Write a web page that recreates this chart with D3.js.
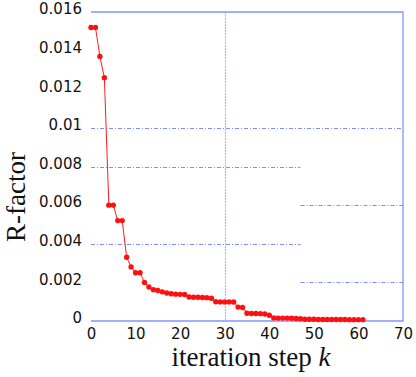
<!DOCTYPE html>
<html>

<head>
    <meta charset="utf-8">
    <style>
        body {
            margin: 0;
            background: #fff;
        }

        svg {
            display: block;
        }

        .tick text {
            font-family: 'DejaVu Sans', sans-serif;
            font-size: 15px;
            fill: #111;
        }

        .axis .domain {
            display: none;
        }

        .title {
            font-family: 'Liberation Serif', 'Times New Roman', serif;
            font-size: 27px;
            fill: #111;
        }
    </style>
</head>

<body>
    <svg width="416" height="377"></svg>

    <script src="https://d3js.org/d3.v7.min.js"></script>

    <script>
        // R-factor per iteration step
        let steps = d3.range(0, 62);
        let rfactor = [
            0.0152, 0.0152, 0.0137, 0.0126, 0.0060, 0.0060, 0.0052, 0.0052, 0.0033, 0.0028,
            0.0025, 0.0025, 0.0020, 0.00176, 0.00162, 0.00158, 0.00151, 0.00145, 0.00141, 0.00139,
            0.00138, 0.00137, 0.00124, 0.00123, 0.00123, 0.00122, 0.00121, 0.00118, 0.00100, 0.00099,
            0.00099, 0.00099, 0.00098, 0.00072, 0.00070, 0.00040, 0.00039, 0.00039, 0.00038, 0.00036,
            0.00030, 0.00016, 0.00015, 0.00015, 0.00015, 0.00014, 0.00013, 0.00012, 0.00009, 0.00009,
            0.00009, 0.00008, 0.00008, 0.00008, 0.00008, 0.00008, 0.00008, 0.00008, 0.00007, 0.00007,
            0.00007, 0.00007
        ];

        let xTicks = [0, 10, 20, 30, 40, 50, 60, 70];
        let yTicks = [0, 0.002, 0.004, 0.006, 0.008, 0.01, 0.012, 0.014, 0.016];
        let yTickLabels = ["0", "0.002", "0.004", "0.006", "0.008", "0.01", "0.012", "0.014", "0.016"];

        // horizontal grid lines, and which part of the plot each one covers
        let gridValues = [0.002, 0.004, 0.006, 0.008, 0.01];
        let gridSpans = ["right", "left", "right", "left", "full"];

        let margin = { top: 12, right: 13, bottom: 56, left: 91 };
        let width = 416;
        let height = 377;

        let svg = d3.select("svg");

        let x = d3.scaleLinear()
            .domain([0, 70])
            .range([margin.left, width - margin.right]);

        let y = d3.scaleLinear()
            .domain([0, 0.016])
            .range([height - margin.bottom, margin.top]);

        let gridBlue = "#7f8cff";
        let splitAt = 47;

        // grid
        let grid = svg.append("g").attr("class", "grid");

        gridValues.forEach((v, i) => {
            let span = gridSpans[i];
            let x1 = span == "right" ? x(splitAt) : x(0);
            let x2 = span == "left" ? x(splitAt) : x(70);
            grid.append("line")
                .attr("x1", x1)
                .attr("x2", x2)
                .attr("y1", Math.round(y(v)) + 0.5)
                .attr("y2", Math.round(y(v)) + 0.5)
                .attr("stroke", gridBlue)
                .attr("stroke-width", 1)
                .attr("stroke-dasharray", "4,2,1,2");
        });

        grid.append("line")
            .attr("x1", Math.round(x(30)) + 0.5)
            .attr("x2", Math.round(x(30)) + 0.5)
            .attr("y1", y(0.016))
            .attr("y2", y(0))
            .attr("stroke", "#aab8ff")
            .attr("stroke-width", 1.2)
            .attr("stroke-dasharray", "2,1");

        // frame: top, right and bottom
        svg.append("path")
            .attr("d", `M${x(0)},${y(0.016)}H${x(70)}V${y(0)}H${x(0)}`)
            .attr("fill", "none")
            .attr("stroke", "#8494ff")
            .attr("stroke-width", 1.3);

        // axes
        svg.append("g")
            .attr("class", "y axis")
            .attr("transform", `translate(${margin.left},0)`)
            .call(d3.axisLeft(y)
                .tickValues(yTicks)
                .tickSize(0)
                .tickPadding(9)
                .tickFormat((d, i) => yTickLabels[i]))
            .call(g => g.selectAll(".tick text").attr("dy", "0.12em"));

        svg.append("g")
            .attr("class", "x axis")
            .attr("transform", `translate(0,${height - margin.bottom})`)
            .call(d3.axisBottom(x)
                .tickValues(xTicks)
                .tickSize(0)
                .tickPadding(7)
                .tickFormat(d3.format("d")));

        // data
        let points = steps.map((s, i) => ({ step: s, r: rfactor[i] }));

        let line = d3.line()
            .x(d => x(d.step))
            .y(d => y(d.r));

        svg.append("path")
            .datum(points)
            .attr("d", line)
            .attr("fill", "none")
            .attr("stroke", "#ff1a1a")
            .attr("stroke-width", 1);

        svg.append("g")
            .selectAll("circle")
            .data(points)
            .join("circle")
            .attr("cx", d => x(d.step))
            .attr("cy", d => y(d.r))
            .attr("r", 2.7)
            .attr("fill", "#ff1010");

        // titles
        let xt = svg.append("text")
            .attr("class", "title")
            .attr("x", 251)
            .attr("y", 366)
            .attr("text-anchor", "middle");
        xt.append("tspan").text("iteration step ");
        xt.append("tspan").attr("font-style", "italic").text("k");

        svg.append("text")
            .attr("class", "title")
            .attr("transform", "translate(25,197) rotate(-90)")
            .attr("text-anchor", "middle")
            .text("R-factor");
    </script>
</body>

</html>
